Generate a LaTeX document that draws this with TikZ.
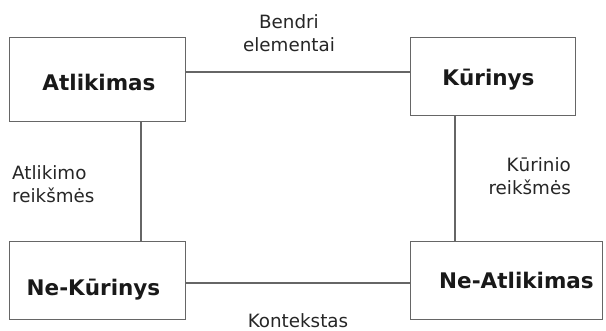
\documentclass[tikz,border=0pt]{standalone}
\usepackage{fontspec}
\setmainfont{DejaVu Sans}
\begin{document}
\begin{tikzpicture}[x=1pt,y=-1pt,
  box/.style={draw=black!60,line width=1.3pt,inner sep=0pt,anchor=north west},
  title/.style={font=\bfseries\fontsize{21.5}{26}\selectfont,text=black!90,inner sep=0pt,anchor=base},
  lbl/.style={font=\fontsize{18.3}{23}\selectfont,text=black!85,inner sep=0pt},
  link/.style={draw=black!60,line width=1.3pt}]
\useasboundingbox[fill=white] (0,0) rectangle (606,331);
% boxes
\node[box,minimum width=176pt,minimum height=84pt] (a) at (9,37) {};
\node[box,minimum width=165pt,minimum height=78pt] (k) at (410,37) {};
\node[box,minimum width=176pt,minimum height=78pt] (nk) at (9,241) {};
\node[box,minimum width=192pt,minimum height=78pt] (na) at (410,241) {};
% titles
\node[title] (ta) at (99,91) {Atlikimas};
\node[title] (tk) at (488.5,86) {Kūrinys};
\node[title] (tnk) at (93.5,296) {Ne-Kūrinys};
\node[title] (tna) at (516.5,289) {Ne-Atlikimas};
% connectors
\draw[link] (a.east |- 0,72) -- (k.west |- 0,72);
\draw[link] (nk.east |- 0,283) -- (na.west |- 0,283);
\draw[link] (a.south -| 141,0) -- (nk.north -| 141,0);
\draw[link] (k.south -| 455,0) -- (na.north -| 455,0);
% labels (base anchor = baseline of last line)
\node[lbl,align=center,anchor=base] (l1) at (289,52) {Bendri\\elementai};
\node[lbl,anchor=base] (l2) at (298,328) {Kontekstas};
\node[lbl,align=left,anchor=base west] (l3) at (12,203) {Atlikimo\\reikšmės};
\node[lbl,align=right,anchor=base east] (l4) at (571,195) {Kūrinio\\reikšmės};
\end{tikzpicture}
\end{document}
